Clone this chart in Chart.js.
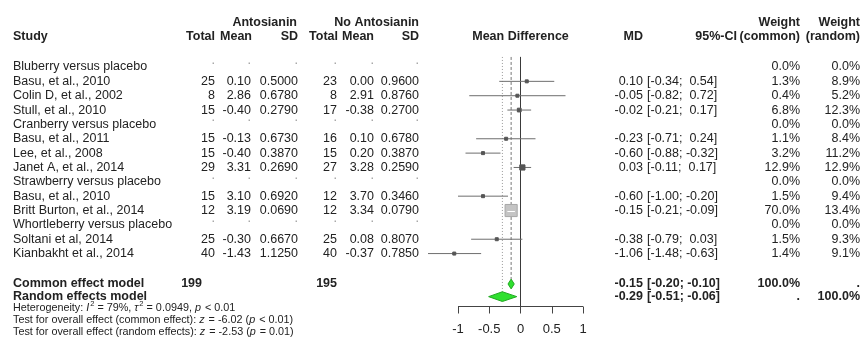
<!DOCTYPE html>
<html>
<head>
<meta charset="utf-8">
<script src="https://cdn.jsdelivr.net/npm/chart.js@4"></script>
<style>
  html, body { margin: 0; padding: 0; background: #fff; }
  #wrap { width: 864px; height: 347px; position: relative; }
</style>
</head>
<body>
<div id="wrap"><canvas id="forest"></canvas></div>
<script>
'use strict';

// study rows (subgroup headers have null values)
const studies = ['Bluberry versus placebo', 'Basu, et al., 2010', 'Colin D, et al., 2002', 'Stull, et al., 2010',
  'Cranberry versus placebo', 'Basu, et al., 2011', 'Lee, et al., 2008', 'Janet A, et al., 2014',
  'Strawberry versus placebo', 'Basu, et al., 2010', 'Britt Burton, et al., 2014',
  'Whortleberry versus placebo', 'Soltani et al, 2014', 'Kianbakht et al., 2014'];
const totalE = [null, 25, 8, 15, null, 15, 15, 29, null, 15, 12, null, 25, 40];
const meanE = [null, 0.10, 2.86, -0.40, null, -0.13, -0.40, 3.31, null, 3.10, 3.19, null, -0.30, -1.43];
const sdE = [null, 0.5000, 0.6780, 0.2790, null, 0.6730, 0.3870, 0.2690, null, 0.6920, 0.0690, null, 0.6670, 1.1250];
const totalC = [null, 23, 8, 17, null, 16, 15, 27, null, 12, 12, null, 25, 40];
const meanC = [null, 0.00, 2.91, -0.38, null, 0.10, 0.20, 3.28, null, 3.70, 3.34, null, 0.08, -0.37];
const sdC = [null, 0.9600, 0.8760, 0.2700, null, 0.6780, 0.3870, 0.2590, null, 0.3460, 0.0790, null, 0.8070, 0.7850];
const md = [null, 0.10, -0.05, -0.02, null, -0.23, -0.60, 0.03, null, -0.60, -0.15, null, -0.38, -1.06];
const ciLow = [null, -0.34, -0.82, -0.21, null, -0.71, -0.88, -0.11, null, -1.00, -0.21, null, -0.79, -1.48];
const ciHigh = [null, 0.54, 0.72, 0.17, null, 0.24, -0.32, 0.17, null, -0.20, -0.09, null, 0.03, -0.63];
const wCommon = [0.0, 1.3, 0.4, 6.8, 0.0, 1.1, 3.2, 12.9, 0.0, 1.5, 70.0, 0.0, 1.5, 1.4];
const wRandom = [0.0, 8.9, 5.2, 12.3, 0.0, 8.4, 11.2, 12.9, 0.0, 9.4, 13.4, 0.0, 9.3, 9.1];

// pooled estimates
const models = ['Common effect model', 'Random effects model'];
const modelMD = [-0.15, -0.29];
const modelLow = [-0.20, -0.51];
const modelHigh = [-0.10, -0.06];
const totals = [199, 195];

const xTicks = [-1, -0.5, 0, 0.5, 1];

// layout (row units on y, effect units on x)
const FONT = '"Liberation Sans", Arial, sans-serif';
const modelRows = [15.12, 16.0];
const axisRow = 16.66;
const topRow = -0.7;
const diamondHalf = 0.34;
const TEXT = '#222';

const isStudy = i => md[i] !== null;
const squareSide = i => Math.max(3, 1.45 * Math.sqrt(wCommon[i]));
const studyIdx = studies.map((s, i) => i).filter(isStudy);

const ciSets = studyIdx.map(i => ({
  type: 'line', order: 2, showLine: true, pointRadius: 0,
  borderColor: '#6e6e6e', borderWidth: 1,
  data: [{x: ciLow[i], y: i}, {x: ciHigh[i], y: i}]
}));

const vline = (x, y2, color, dash, width) => ({
  type: 'line', order: 3, showLine: true, pointRadius: 0,
  borderColor: color, borderWidth: width, borderDash: dash,
  data: [{x: x, y: topRow}, {x: x, y: y2}]
});

function fmtCI(lo, hi) {
  const p = v => (v >= 0 ? ' ' : '') + v.toFixed(2);
  return '[' + p(lo) + '; ' + p(hi) + ']';
}

function richText(ctx, x, y, parts, size) {
  parts.forEach(p => {
    const s = p.sup ? size * 0.7 : size;
    ctx.font = (p.it ? 'italic ' : '') + s + 'px ' + FONT;
    ctx.fillText(p.t, x, y + (p.sup ? -size * 0.38 : 0));
    x += ctx.measureText(p.t).width + (p.it ? 1 : 0);
  });
}

const forestPlugin = {
  id: 'forest',
  afterDatasetsDraw(chart) {
    const {ctx, scales: {x, y}} = chart;
    ctx.save();

    // white CI stroke inside the big squares
    studyIdx.forEach(i => {
      const side = squareSide(i);
      const a = x.getPixelForValue(ciLow[i]), b = x.getPixelForValue(ciHigh[i]);
      const c = x.getPixelForValue(md[i]);
      if (a > c - side / 2 && b < c + side / 2) {
        ctx.strokeStyle = '#fff';
        ctx.lineWidth = 1;
        ctx.beginPath();
        ctx.moveTo(a, Math.round(y.getPixelForValue(i)) + 0.5);
        ctx.lineTo(b, Math.round(y.getPixelForValue(i)) + 0.5);
        ctx.stroke();
      }
    });

    // diamonds
    models.forEach((m, k) => {
      const r = modelRows[k];
      ctx.beginPath();
      ctx.moveTo(x.getPixelForValue(modelLow[k]), y.getPixelForValue(r));
      ctx.lineTo(x.getPixelForValue(modelMD[k]), y.getPixelForValue(r - diamondHalf));
      ctx.lineTo(x.getPixelForValue(modelHigh[k]), y.getPixelForValue(r));
      ctx.lineTo(x.getPixelForValue(modelMD[k]), y.getPixelForValue(r + diamondHalf));
      ctx.closePath();
      ctx.fillStyle = '#2fe02f';
      ctx.fill();
      ctx.strokeStyle = '#22a822';
      ctx.lineWidth = 1;
      ctx.stroke();
    });

    // x axis
    const ay = Math.round(y.getPixelForValue(axisRow)) + 0.5;
    ctx.strokeStyle = '#444';
    ctx.lineWidth = 1;
    ctx.beginPath();
    ctx.moveTo(x.getPixelForValue(xTicks[0]), ay);
    ctx.lineTo(x.getPixelForValue(xTicks[xTicks.length - 1]), ay);
    xTicks.forEach(t => {
      const px = Math.round(x.getPixelForValue(t)) + 0.5;
      ctx.moveTo(px, ay);
      ctx.lineTo(px, ay + 7);
    });
    ctx.stroke();
    ctx.fillStyle = TEXT;
    ctx.font = '13px ' + FONT;
    ctx.textAlign = 'center';
    ctx.textBaseline = 'middle';
    xTicks.forEach(t => ctx.fillText(String(t), x.getPixelForValue(t), ay + 23));

    // table text
    const rowY = r => y.getPixelForValue(r);
    const put = (t, px, r, align, bold, color) => {
      ctx.font = (bold ? 'bold ' : '') + '12.5px ' + FONT;
      ctx.textAlign = align;
      ctx.fillStyle = color || TEXT;
      ctx.fillText(t, px, rowY(r));
    };

    // headers
    put('Antosianin', 297, -3.12, 'right', true);
    put('No Antosianin', 419, -3.12, 'right', true);
    put('Weight', 800, -3.12, 'right', true);
    put('Weight', 860, -3.12, 'right', true);
    put('Study', 13, -2.15, 'left', true);
    put('Total', 215, -2.15, 'right', true);
    put('Mean', 252, -2.15, 'right', true);
    put('SD', 298, -2.15, 'right', true);
    put('Total', 338, -2.15, 'right', true);
    put('Mean', 374, -2.15, 'right', true);
    put('SD', 419, -2.15, 'right', true);
    put('Mean Difference', x.getPixelForValue(0), -2.15, 'center', true);
    put('MD', 643, -2.15, 'right', true);
    put('95%-CI', 737, -2.15, 'right', true);
    put('(common)', 800, -2.15, 'right', true);
    put('(random)', 860, -2.15, 'right', true);

    // study rows
    studies.forEach((s, i) => {
      put(s, 13, i, 'left');
      if (isStudy(i)) {
        put(String(totalE[i]), 215, i, 'right');
        put(meanE[i].toFixed(2), 251, i, 'right');
        put(sdE[i].toFixed(4), 298, i, 'right');
        put(String(totalC[i]), 337, i, 'right');
        put(meanC[i].toFixed(2), 374, i, 'right');
        put(sdC[i].toFixed(4), 419, i, 'right');
        put(md[i].toFixed(2), 643, i, 'right');
        put(fmtCI(ciLow[i], ciHigh[i]), 647, i, 'left');
      } else {
        [215, 251, 298, 337, 374, 419].forEach(px => put('.', px, i - 0.45, 'right', false, '#999'));
      }
      put(wCommon[i].toFixed(1) + '%', 800, i, 'right');
      put(wRandom[i].toFixed(1) + '%', 860, i, 'right');
    });

    // pooled rows
    models.forEach((m, k) => {
      const r = modelRows[k];
      put(m, 13, r, 'left', true);
      put(modelMD[k].toFixed(2), 643, r, 'right', true);
      put(fmtCI(modelLow[k], modelHigh[k]), 647, r, 'left', true);
    });
    put(String(totals[0]), 202, modelRows[0], 'right', true);
    put(String(totals[1]), 337, modelRows[0], 'right', true);
    put('100.0%', 800, modelRows[0], 'right', true);
    put('.', 860, modelRows[0], 'right', true);
    put('.', 800, modelRows[1], 'right', true);
    put('100.0%', 860, modelRows[1], 'right', true);

    // heterogeneity and tests
    ctx.textAlign = 'left';
    ctx.fillStyle = TEXT;
    const fs = 10.8;
    richText(ctx, 13, 308, [
      {t: 'Heterogeneity: '}, {t: 'I', it: true}, {t: '2', sup: true}, {t: ' = 79%, '},
      {t: '\u03c4', it: true}, {t: '2', sup: true}, {t: ' = 0.0949, '}, {t: 'p', it: true}, {t: ' < 0.01'}
    ], fs);
    richText(ctx, 13, 320, [
      {t: 'Test for overall effect (common effect): '}, {t: 'z', it: true}, {t: ' = -6.02 ('},
      {t: 'p', it: true}, {t: ' < 0.01)'}
    ], fs);
    richText(ctx, 13, 332, [
      {t: 'Test for overall effect (random effects): '}, {t: 'z', it: true}, {t: ' = -2.53 ('},
      {t: 'p', it: true}, {t: ' = 0.01)'}
    ], fs);

    ctx.restore();
  }
};

const squares = {
  type: 'scatter', order: 1,
  data: studyIdx.map(i => ({x: md[i], y: i})),
  pointStyle: 'rect',
  pointRadius: studyIdx.map(i => squareSide(i) / Math.SQRT2),
  backgroundColor: studyIdx.map(i => squareSide(i) < 6 ? '#555' : '#c4c4c4'),
  borderColor: studyIdx.map(i => squareSide(i) < 6 ? '#555' : '#a8a8a8'),
  borderWidth: 1
};

new Chart(document.getElementById('forest'), {
  type: 'scatter',
  data: {
    datasets: [
      squares,
      ...ciSets,
      vline(0, axisRow, '#3a3a3a', [], 1),
      vline(modelMD[0], modelRows[0] - diamondHalf, '#777', [3, 2], 1),
      vline(modelMD[1], modelRows[1] - diamondHalf, '#9a9a9a', [1, 2], 1)
    ]
  },
  options: {
    responsive: true,
    maintainAspectRatio: false,
    animation: false,
    layout: {padding: 0, autoPadding: false},
    plugins: {legend: {display: false}, tooltip: {enabled: false}},
    scales: {
      x: {type: 'linear', display: false, min: -8.328, max: 5.496},
      y: {type: 'linear', display: false, reverse: true, min: -4.669, max: 19.51}
    }
  },
  plugins: [forestPlugin]
});
</script>
</body>
</html>
